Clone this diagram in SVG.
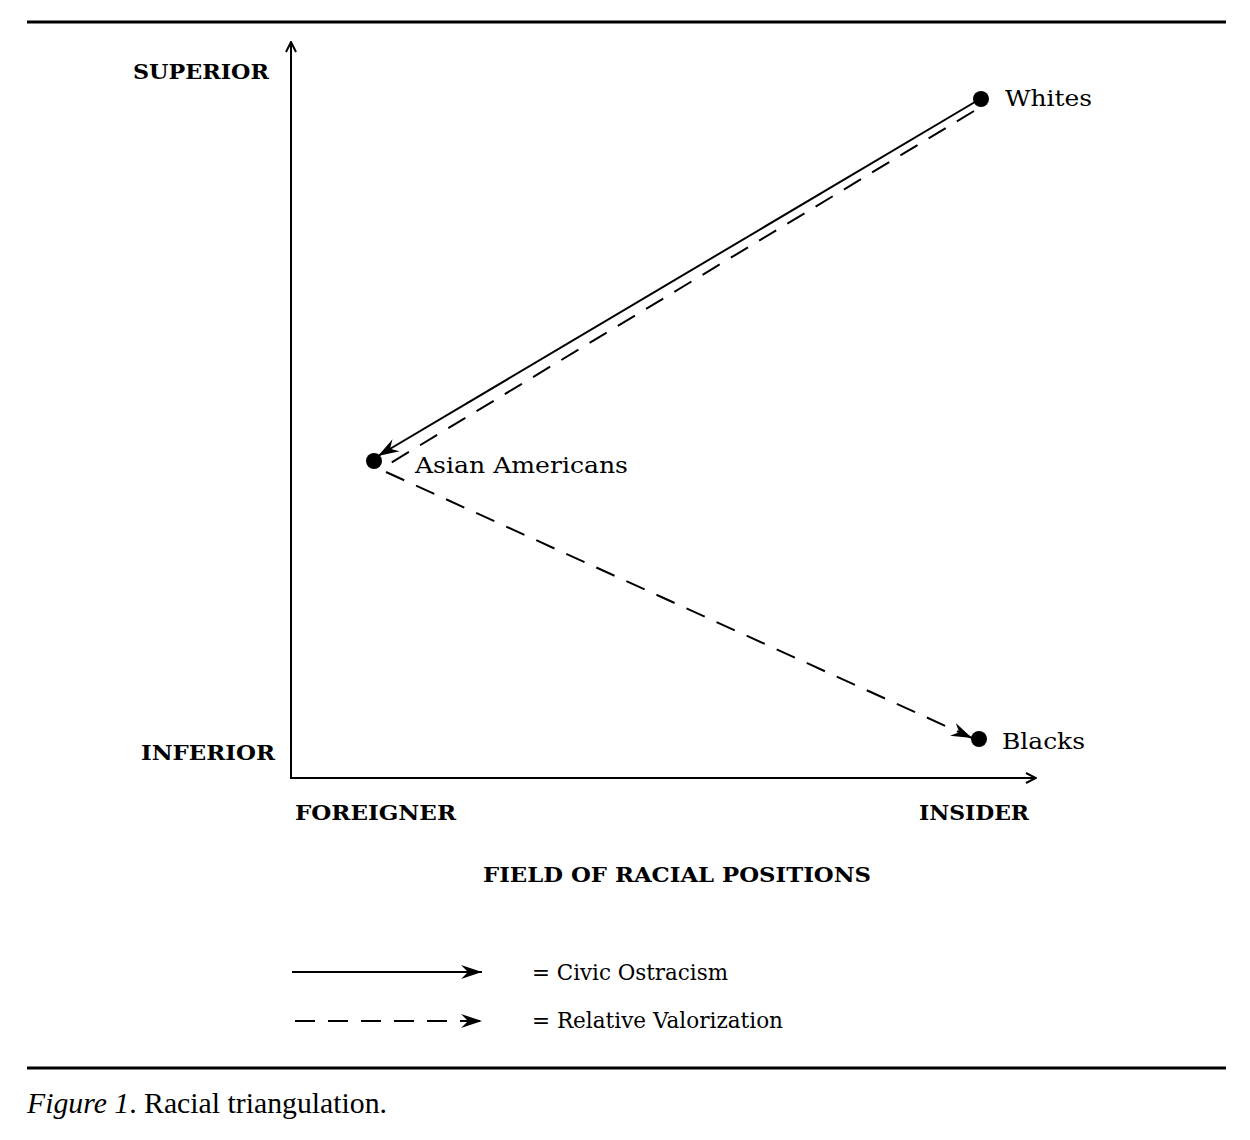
<svg xmlns="http://www.w3.org/2000/svg" width="1250" height="1140" viewBox="0 0 1250 1140">
<defs>
<style>
.bold{font-family:"DejaVu Serif","Liberation Serif",serif;font-weight:bold;font-size:21px;fill:#000}
.lab{font-family:"DejaVu Serif","Liberation Serif",serif;font-size:22px;fill:#000}
.cap{font-family:"Liberation Serif","Times New Roman",serif;font-size:29px;fill:#000}
.ln{stroke:#000;stroke-width:2;fill:none}
.dash{stroke:#000;stroke-width:2;fill:none;stroke-dasharray:20 13}
</style>
<marker id="open" viewBox="0 0 12 12" refX="11" refY="6" markerWidth="12" markerHeight="12" markerUnits="userSpaceOnUse" orient="auto">
<path d="M1,1 L11,6 L1,11" fill="none" stroke="#000" stroke-width="2"/>
</marker>
<marker id="feather" viewBox="0 0 22 16" refX="21" refY="8" markerWidth="22" markerHeight="16" markerUnits="userSpaceOnUse" orient="auto">
<path d="M0,1 L21,8 L0,15 L7,8 z" fill="#000"/>
</marker>
</defs>
<rect width="1250" height="1140" fill="#fff"/>
<line x1="27" y1="22" x2="1226" y2="22" stroke="#000" stroke-width="3"/>
<line x1="27" y1="1068" x2="1226" y2="1068" stroke="#000" stroke-width="3"/>

<g id="axes">
<line class="ln" x1="291" y1="779" x2="291" y2="42" marker-end="url(#open)"/>
<line class="ln" x1="291" y1="778" x2="1036" y2="778" marker-end="url(#open)"/>
<text class="bold" x="133" y="79" textLength="136" lengthAdjust="spacingAndGlyphs">SUPERIOR</text>
<text class="bold" x="141" y="760" textLength="134" lengthAdjust="spacingAndGlyphs">INFERIOR</text>
<text class="bold" x="295" y="820" textLength="161" lengthAdjust="spacingAndGlyphs">FOREIGNER</text>
<text class="bold" x="919" y="820" textLength="110" lengthAdjust="spacingAndGlyphs">INSIDER</text>
<text class="bold" x="483" y="882" textLength="388" lengthAdjust="spacingAndGlyphs">FIELD OF RACIAL POSITIONS</text>
</g>

<g id="connectors">
<line class="ln" x1="980" y1="99" x2="378" y2="456" marker-end="url(#feather)"/>
<line class="dash" x1="974" y1="111" x2="384" y2="467"/>
<line class="dash" x1="386" y1="472" x2="972" y2="738" marker-end="url(#feather)"/>
</g>

<g id="whites">
<circle cx="981" cy="99" r="8" fill="#000"/>
<text class="lab" x="1005" y="106" textLength="87" lengthAdjust="spacingAndGlyphs">Whites</text>
</g>
<g id="asian-americans">
<circle cx="374" cy="461" r="8" fill="#000"/>
<text class="lab" x="415" y="473" textLength="213" lengthAdjust="spacingAndGlyphs">Asian Americans</text>
</g>
<g id="blacks">
<circle cx="979" cy="739" r="8" fill="#000"/>
<text class="lab" x="1002" y="749" textLength="83" lengthAdjust="spacingAndGlyphs">Blacks</text>
</g>

<g id="legend">
<line class="ln" x1="292" y1="972" x2="482" y2="972" marker-end="url(#feather)"/>
<line class="dash" x1="295" y1="1021" x2="482" y2="1021" stroke-dasharray="16 11" marker-end="url(#feather)"/>
<text class="lab" x="532" y="980" font-size="20" textLength="196" lengthAdjust="spacingAndGlyphs">= Civic Ostracism</text>
<text class="lab" x="532" y="1028" font-size="20" textLength="251" lengthAdjust="spacingAndGlyphs">= Relative Valorization</text>
</g>

<text class="cap" x="27" y="1113" textLength="360" lengthAdjust="spacingAndGlyphs"><tspan font-style="italic">Figure 1</tspan>. Racial triangulation.</text>
</svg>
